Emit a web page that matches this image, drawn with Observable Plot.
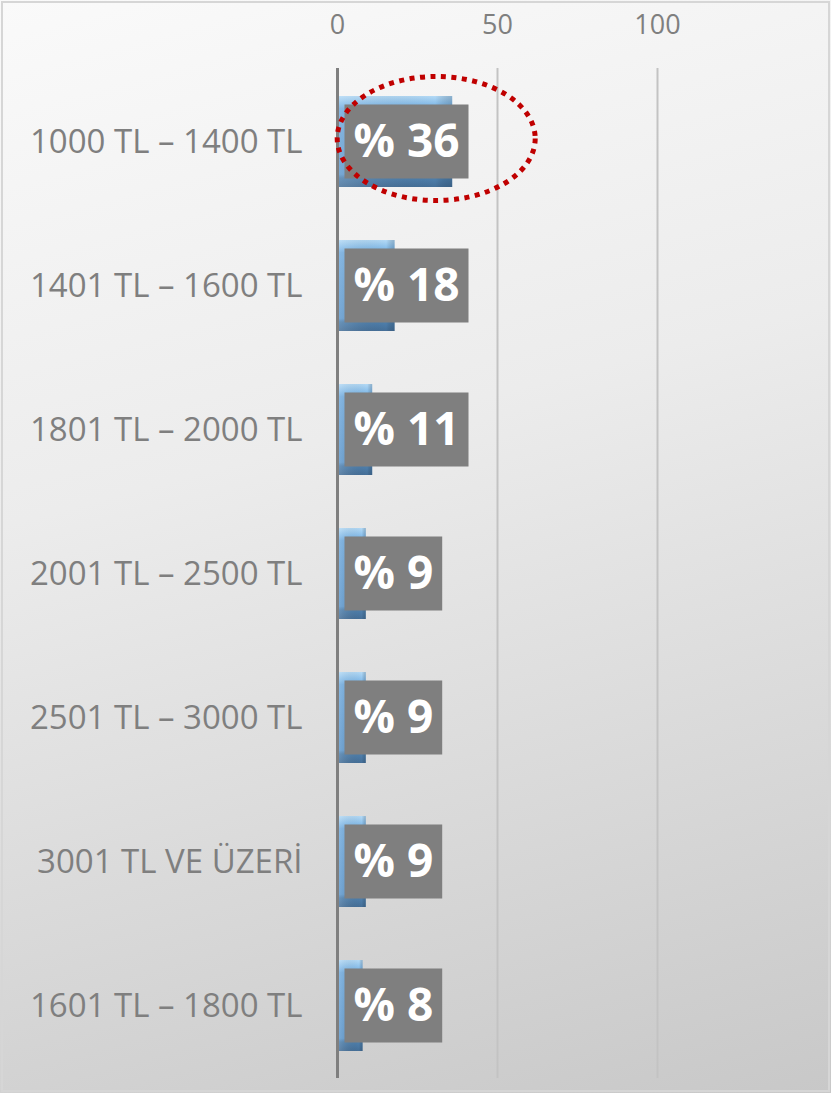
<!DOCTYPE html>
<html><head><meta charset="utf-8">
<script src="https://cdn.jsdelivr.net/npm/d3@7"></script>
<script src="https://cdn.jsdelivr.net/npm/@observablehq/plot@0.6"></script>
<style>
html,body{margin:0;padding:0;background:#fff;}
#chart svg{display:block;}
</style></head><body><div id="chart"></div>
<script>
const categories = ["1000 TL – 1400 TL", "1401 TL – 1600 TL", "1801 TL – 2000 TL", "2001 TL – 2500 TL", "2501 TL – 3000 TL", "3001 TL VE ÜZERİ", "1601 TL – 1800 TL"];
const values = [36, 18, 11, 9, 9, 9, 8];
const xTicks = [0, 50, 100];
const xDomain = [0, 150];
const labelPrefix = "% ";
const highlighted = "1000 TL – 1400 TL";

const data = categories.map((c, i) => ({category: c, value: values[i]}));

const plot = Plot.plot({
  width: 831, height: 1093,
  marginTop: 68, marginBottom: 15, marginLeft: 337, marginRight: 14,
  style: {fontFamily: "'Open Sans', sans-serif", color: "#7f7f7f", background: "linear-gradient(165deg, #fafafa 0%, #ececec 40%, #c8c8c8 100%)", outline: "2px solid #d6d6d6", outlineOffset: "-3px", overflow: "visible"},
  x: {domain: xDomain, ticks: xTicks, axis: null},
  y: {domain: categories, paddingInner: 0.37, paddingOuter: 0.185, axis: null},
  marks: [
    Plot.ruleX(xTicks.filter(d => d > 0), {stroke: "#c3c3c3", strokeWidth: 2}),
    Plot.barX(data, {y: "category", x: "value", fill: "url(#barGrad)", insetLeft: 2}),
    Plot.barX(data, {y: "category", x: "value", fill: "url(#barGradH)", insetLeft: 2}),
    Plot.ruleX([0], {stroke: "#7f7f7f", strokeWidth: 3}),
    Plot.axisX(xTicks, {anchor: "top", tickSize: 0, tickPadding: 35, fontSize: 27, label: null, color: "#7f7f7f"}),
    Plot.axisY({anchor: "left", tickSize: 0, tickPadding: 35, fontSize: 33, label: null, color: "#7f7f7f"}),
    Plot.text(data, {y: "category", x: 0, dx: 16, text: d => labelPrefix + d.value, textAnchor: "start", fill: "white", fontWeight: "bold", fontSize: 46})
  ]
});
document.getElementById("chart").append(plot);

const ns = "http://www.w3.org/2000/svg";
const defs = document.createElementNS(ns, "defs");
defs.innerHTML = `<linearGradient id="barGrad" x1="0" y1="0" x2="0" y2="1">
  <stop offset="0" stop-color="#b4daf6"/>
  <stop offset="0.08" stop-color="#8cc1ec"/>
  <stop offset="0.14" stop-color="#72abdd"/>
  <stop offset="0.86" stop-color="#6099cd"/>
  <stop offset="0.9" stop-color="#4f80ad"/>
  <stop offset="1" stop-color="#456f98"/>
</linearGradient>
<linearGradient id="barGradH" x1="0" y1="0" x2="1" y2="0">
  <stop offset="0" stop-color="#ffffff" stop-opacity="0.15"/>
  <stop offset="0.85" stop-color="#000000" stop-opacity="0"/>
  <stop offset="1" stop-color="#1d3a55" stop-opacity="0.25"/>
</linearGradient>`;
plot.insertBefore(defs, plot.firstChild);

const yS = plot.scale("y"), xS = plot.scale("x");
const textG = plot.querySelector('g[aria-label="text"]');
const boxG = document.createElementNS(ns, "g");
textG.parentNode.insertBefore(boxG, textG);
textG.querySelectorAll("text").forEach((t, i) => {
  const bb = t.getBBox();
  const m = t.getCTM();
  const x0 = m.e + bb.x * m.a;
  const cy = yS.apply(categories[i]) + yS.bandwidth / 2;
  const r = document.createElementNS(ns, "rect");
  r.setAttribute("x", x0 - 9);
  r.setAttribute("width", bb.width + 18);
  r.setAttribute("y", cy - 37);
  r.setAttribute("height", 74);
  r.setAttribute("fill", "#7f7f7f");
  boxG.appendChild(r);
});

const e = document.createElementNS(ns, "ellipse");
e.setAttribute("cx", xS.apply(31));
e.setAttribute("cy", yS.apply(highlighted) + yS.bandwidth / 2 - 3);
e.setAttribute("rx", 99);
e.setAttribute("ry", 62);
e.setAttribute("fill", "none");
e.setAttribute("stroke", "#c00000");
e.setAttribute("stroke-width", 5);
e.setAttribute("stroke-dasharray", "5 5.5");
plot.appendChild(e);
</script></body></html>
